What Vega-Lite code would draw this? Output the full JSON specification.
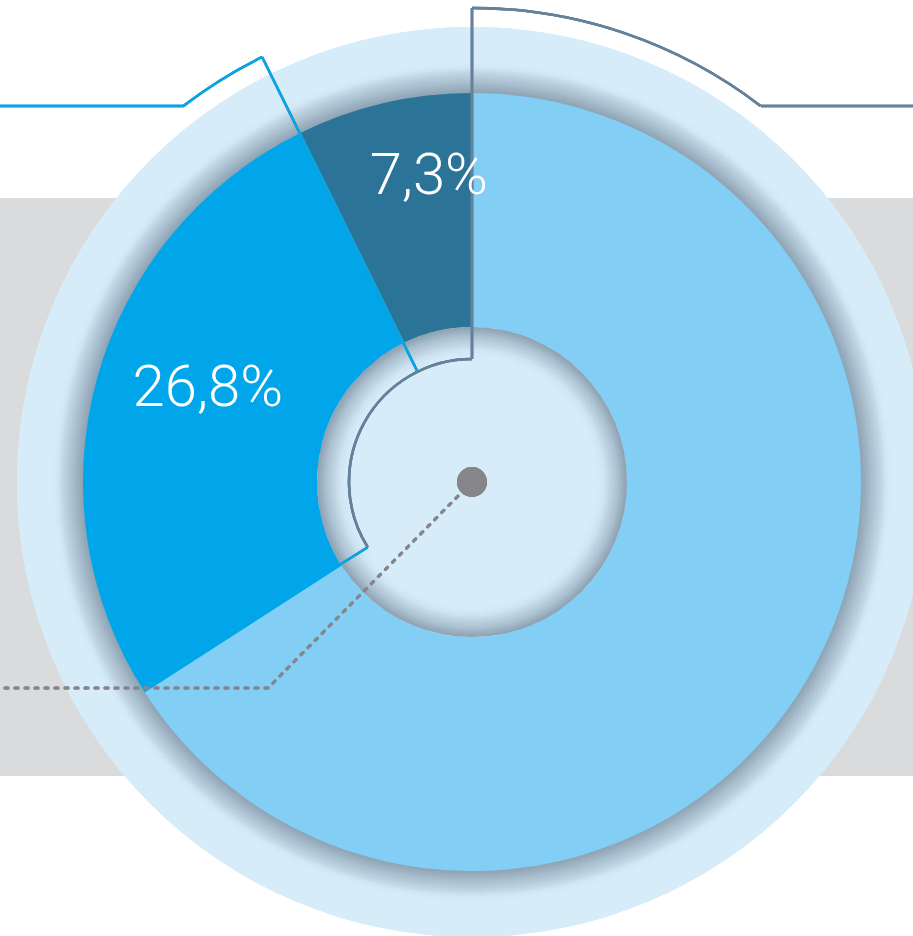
{
  "$schema": "https://vega.github.io/schema/vega-lite/v6.json",
  "width": 913,
  "height": 936,
  "padding": 0,
  "autosize": {"type": "none"},
  "background": "#ffffff",
  "config": {"view": {"stroke": null}},
  "data": {"values": [
    {"segment": "rest", "share": 65.9, "rank": 1, "label": ""},
    {"segment": "b", "share": 26.8, "rank": 2, "label": "26,8%"},
    {"segment": "a", "share": 7.3, "rank": 3, "label": "7,3%"}
  ]},
  "layer": [
    {
      "mark": {"type": "rect", "color": "#d9dbdc"},
      "encoding": {
        "x": {"datum": 0, "type": "quantitative", "scale": {"domain": [0, 913], "range": [0, 913], "nice": false, "zero": false}, "axis": null},
        "x2": {"datum": 913},
        "y": {"datum": 198, "type": "quantitative", "scale": {"domain": [0, 936], "range": [0, 936], "nice": false, "zero": false}, "axis": null},
        "y2": {"datum": 776}
      }
    },
    {
      "mark": {"type": "arc", "color": "#d6ecf9"},
      "encoding": {
        "x": {"datum": 472, "type": "quantitative"},
        "y": {"datum": 482, "type": "quantitative"},
        "theta": {"datum": 0, "type": "quantitative", "scale": {"type": "linear", "domain": [0, 100], "range": [0, 6.283185307], "zero": true}},
        "theta2": {"datum": 100},
        "radius": {"datum": 455, "type": "quantitative", "scale": {"type": "linear", "domain": [0, 500], "range": [0, 500], "zero": true}},
        "radius2": {"datum": 0}
      }
    },
    {
      "mark": {"type": "arc", "fill": {"gradient": "radial", "x1": 0.5, "y1": 0.5, "x2": 0.5, "y2": 0.5, "r1": 0.4619, "r2": 0.5, "stops": [{"offset": 0, "color": "rgba(90,110,130,0.26)"}, {"offset": 0.35, "color": "rgba(90,110,130,0.14)"}, {"offset": 0.7, "color": "rgba(90,110,130,0.05)"}, {"offset": 1, "color": "rgba(214,236,249,0)"}]}},
      "encoding": {
        "x": {"datum": 472, "type": "quantitative"},
        "y": {"datum": 482, "type": "quantitative"},
        "theta": {"datum": 0, "type": "quantitative"},
        "theta2": {"datum": 100},
        "radius": {"datum": 420, "type": "quantitative"},
        "radius2": {"datum": 388}
      }
    },
    {
      "mark": {"type": "arc", "stroke": null},
      "encoding": {
        "x": {"datum": 472, "type": "quantitative"},
        "y": {"datum": 482, "type": "quantitative"},
        "theta": {"field": "share", "type": "quantitative", "stack": true},
        "order": {"field": "rank", "type": "quantitative"},
        "radius": {"datum": 389, "type": "quantitative"},
        "radius2": {"datum": 155},
        "color": {"field": "segment", "type": "nominal", "scale": {"domain": ["rest", "b", "a"], "range": ["#82cef4", "#00a6e9", "#2c7497"]}, "legend": null}
      }
    },
    {
      "mark": {"type": "arc", "fill": {"gradient": "radial", "x1": 0.5, "y1": 0.5, "x2": 0.5, "y2": 0.5, "r1": 0.4, "r2": 0.5, "stops": [{"offset": 0, "color": "rgba(214,236,249,0)"}, {"offset": 0.35, "color": "rgba(90,110,130,0.04)"}, {"offset": 0.7, "color": "rgba(90,110,130,0.13)"}, {"offset": 1, "color": "rgba(90,110,130,0.26)"}]}},
      "encoding": {
        "x": {"datum": 472, "type": "quantitative"},
        "y": {"datum": 482, "type": "quantitative"},
        "theta": {"datum": 0, "type": "quantitative"},
        "theta2": {"datum": 100},
        "radius": {"datum": 155, "type": "quantitative"},
        "radius2": {"datum": 124}
      }
    },
    {
      "mark": {"type": "rule", "color": "#0ea3e0", "strokeWidth": 2.5},
      "encoding": {
        "x": {"datum": 0, "type": "quantitative"},
        "x2": {"datum": 184},
        "y": {"datum": 106, "type": "quantitative"}
      }
    },
    {
      "mark": {"type": "arc", "filled": false, "color": "#0ea3e0", "strokeWidth": 2.5},
      "encoding": {
        "x": {"datum": 472, "type": "quantitative"},
        "y": {"datum": 482, "type": "quantitative"},
        "theta": {"datum": 89.58, "type": "quantitative"},
        "theta2": {"datum": 92.7},
        "radius": {"datum": 474, "type": "quantitative"},
        "radius2": {"datum": 474}
      }
    },
    {
      "mark": {"type": "arc", "filled": false, "color": "#0ea3e0", "strokeWidth": 2.5},
      "encoding": {
        "x": {"datum": 472, "type": "quantitative"},
        "y": {"datum": 482, "type": "quantitative"},
        "theta": {"datum": 92.7, "type": "quantitative"},
        "theta2": {"datum": 92.7},
        "radius": {"datum": 474, "type": "quantitative"},
        "radius2": {"datum": 123}
      }
    },
    {
      "mark": {"type": "arc", "filled": false, "color": "#0ea3e0", "strokeWidth": 2.5},
      "encoding": {
        "x": {"datum": 472, "type": "quantitative"},
        "y": {"datum": 482, "type": "quantitative"},
        "theta": {"datum": 66.1, "type": "quantitative"},
        "theta2": {"datum": 66.1},
        "radius": {"datum": 157, "type": "quantitative"},
        "radius2": {"datum": 123}
      }
    },
    {
      "mark": {"type": "rule", "color": "#65829a", "strokeWidth": 2.5},
      "encoding": {
        "x": {"datum": 761, "type": "quantitative"},
        "x2": {"datum": 913},
        "y": {"datum": 106, "type": "quantitative"}
      }
    },
    {
      "mark": {"type": "arc", "filled": false, "color": "#65829a", "strokeWidth": 2.5},
      "encoding": {
        "x": {"datum": 472, "type": "quantitative"},
        "y": {"datum": 482, "type": "quantitative"},
        "theta": {"datum": 0, "type": "quantitative"},
        "theta2": {"datum": 10.42},
        "radius": {"datum": 474, "type": "quantitative"},
        "radius2": {"datum": 474}
      }
    },
    {
      "mark": {"type": "arc", "filled": false, "color": "#65829a", "strokeWidth": 2.5},
      "encoding": {
        "x": {"datum": 472, "type": "quantitative"},
        "y": {"datum": 482, "type": "quantitative"},
        "theta": {"datum": 100, "type": "quantitative"},
        "theta2": {"datum": 100},
        "radius": {"datum": 474, "type": "quantitative"},
        "radius2": {"datum": 123}
      }
    },
    {
      "mark": {"type": "arc", "filled": false, "color": "#65829a", "strokeWidth": 2.5},
      "encoding": {
        "x": {"datum": 472, "type": "quantitative"},
        "y": {"datum": 482, "type": "quantitative"},
        "theta": {"datum": 66.1, "type": "quantitative"},
        "theta2": {"datum": 100},
        "radius": {"datum": 123, "type": "quantitative"},
        "radius2": {"datum": 123}
      }
    },
    {
      "mark": {"type": "rule", "color": "#87878b", "strokeWidth": 3, "strokeDash": [3, 7], "strokeCap": "round"},
      "encoding": {
        "x": {"datum": 472, "type": "quantitative"},
        "x2": {"datum": 268},
        "y": {"datum": 482, "type": "quantitative"},
        "y2": {"datum": 688}
      }
    },
    {
      "mark": {"type": "rule", "color": "#87878b", "strokeWidth": 3, "strokeDash": [3, 7], "strokeCap": "round"},
      "encoding": {
        "x": {"datum": 268, "type": "quantitative"},
        "x2": {"datum": 0},
        "y": {"datum": 688, "type": "quantitative"}
      }
    },
    {
      "mark": {"type": "arc", "color": "#86858a"},
      "encoding": {
        "x": {"datum": 472, "type": "quantitative"},
        "y": {"datum": 482, "type": "quantitative"},
        "theta": {"datum": 0, "type": "quantitative"},
        "theta2": {"datum": 100},
        "radius": {"datum": 15, "type": "quantitative"},
        "radius2": {"datum": 0}
      }
    },
    {
      "mark": {"type": "text", "color": "#ffffff", "font": "Roboto, sans-serif", "fontWeight": 300, "fontSize": 58, "align": "center", "baseline": "middle", "dx": 25, "dy": -13},
      "encoding": {
        "x": {"datum": 472, "type": "quantitative"},
        "y": {"datum": 482, "type": "quantitative"},
        "theta": {"field": "share", "type": "quantitative", "stack": true},
        "order": {"field": "rank", "type": "quantitative"},
        "radius": {"datum": 300, "type": "quantitative"},
        "text": {"field": "label", "type": "nominal"}
      }
    }
  ]
}
